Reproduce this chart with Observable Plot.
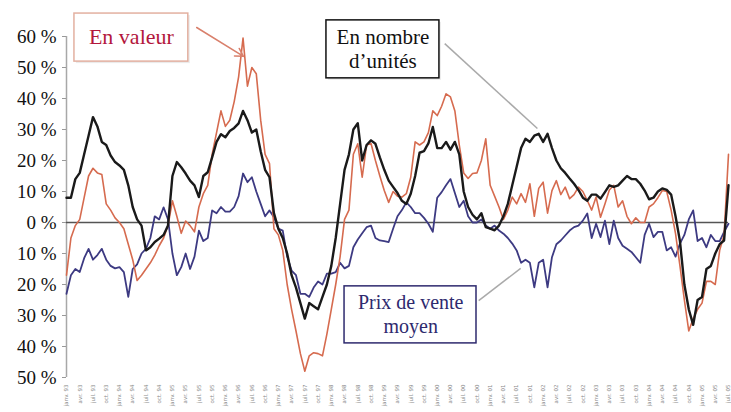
<!DOCTYPE html>
<html><head><meta charset="utf-8">
<script src="https://cdn.jsdelivr.net/npm/d3@7"></script>
<script src="https://cdn.jsdelivr.net/npm/@observablehq/plot@0.6"></script>
<style>body{margin:0;background:#fff;} #chart svg{display:block}</style>
</head><body><div id="chart"></div>
<script>
// Monthly year-over-year change (%), month index 0 = January of startYear
const startYear = 1993;
const monthNames = ["janv.","févr.","mars","avr.","mai","juin","juil.","août","sept.","oct.","nov.","déc."];

const nombre = [ // En nombre d'unités
  8, 8, 14, 16, 22, 28, 34, 31, 26, 25,
  21.6, 19.5, 18.4, 17, 12, 5, 1, -1, -9, -8,
  -6.3, -5.2, -4, -1, 15, 19.5, 17.8, 15.8, 13.5, 12,
  8.2, 15, 16.2, 21, 26, 28.5, 27.5, 29.5, 30.5, 32,
  36, 33, 29, 30, 23, 17, 14.6, 3, -2, -5,
  -10, -17, -21, -26, -31, -26, -27, -28, -24, -20,
  -14, -5, 6, 17, 22, 30, 32, 20, 25, 26.5,
  25.4, 21, 17, 13.5, 11.5, 9.5, 7, 6, 9.3, 15,
  22.5, 23, 25.5, 30.8, 24, 24, 26, 23.5, 26, 22,
  10, 5, 2.5, 1, 3, -1.5, -2, -2.5, -1, 2,
  6, 12, 18, 24, 27, 26, 28, 28.6, 26, 28.6,
  24, 20, 17.5, 16, 14.2, 12.5, 10.5, 8, 7, 9,
  9, 7.7, 9.8, 12, 11.5, 12, 13.5, 15, 14, 14,
  12.5, 10.3, 7.5, 8, 10, 11, 10.5, 9, 2, -6,
  -20, -28, -33, -25, -24, -15, -14, -10, -7, -5.8,
  12
];

const valeur = [ // En valeur
  -17, -5, -1, 1, 8, 15, 17.5, 16, 15.5, 6,
  4, 1.5, 0, -2, -7, -12, -18.7, -17, -15, -13,
  -10.5, -7.5, -5, -1, 7, 2, -3.5, 0.5, -1, -3,
  5, 9.3, 12, 22, 29, 36, 31, 33, 39, 47,
  59.5, 44, 50, 48, 33, 22, 19, -2, -4, -9,
  -20, -28, -35, -42.3, -48, -43, -42, -42.3, -43, -36,
  -28, -20, -11, 1, 4, 22, 25.4, 14.6, 25, 25.5,
  20, 15, 10.3, 6.5, 10, 8.5, 8.2, 9.3, 14.6, 26,
  25, 26, 29, 36, 34.5, 37.5, 41.5, 40.5, 36, 25,
  16, 14.2, 15.8, 16, 20, 27, 12, 8.5, 5, 1,
  4, 8.2, 6, 9.3, 6.5, 12.5, 2, 11, 13, 3,
  10.3, 13.5, 9, 11.4, 7.7, 9, 11.4, 10, 7.1, 4,
  8.2, 1.7, 6, 10.5, 12, 5, 7, 2, -0.4, 1.5,
  0, 0, 5, 6, 8, 10.3, 10, 4, -3.6, -14,
  -25, -35, -31, -28, -26, -19, -19, -20, -9, -4,
  22
];

const prix = [ // Prix de vente moyen
  -23, -17, -15, -16, -11.5, -8.5, -12, -10.5, -8.5, -12,
  -14, -14.8, -14.4, -16, -24, -15, -13.5, -10, -8.5, -5,
  2, 1, 4.9, 1, -10, -17, -14.4, -10, -15, -11,
  -2.6, -6, -5, 3.9, 3, 5, 3.5, 3.5, 5, 8.5,
  15.8, 13, 14.6, 10, 6, 2, 3.9, 1.7, -2, -2.6,
  -11, -15.5, -17, -23, -23, -24, -21, -19, -20, -16.5,
  -16.5, -16, -13, -14.8, -14, -8, -5.5, -3.5, -1.5, -1,
  -5, -5.8, -6, -6.3, -2, 2, 4, 6.5, 5, 3,
  3, 1.5, -0.4, -3, 8, 9.8, 12, 14, 9.5, 5,
  7, 2, 0, 0, 1, -1, -2, -1, -2.6, -3.6,
  -5, -6.8, -9, -13, -12, -13, -20.9, -13, -12, -20.9,
  -11.2, -7, -5.8, -4.2, -2.6, -1.5, -1, 0.6, 2.9, -5,
  -0.4, -4.7, 0.6, -7, 0.6, -5, -7.5, -8.5, -9.5, -11.2,
  -13, -4, -0.4, -4.7, -3, -3, -9, -8, -11, -6.8,
  -4, 1, 3.9, -6, -5, -8, -4, -6, -6, -3,
  -0.4
];

const yTicks = [-50, -40, -30, -20, -10, 0, 10, 20, 30, 40, 50, 60];
const xTicks = d3.range(0, nombre.length, 3);

const toRows = arr => arr.map((v, i) => ({m: i, v}));
const fmtMonth = m => {
  const mo = m % 12, yr = startYear + Math.floor(m / 12);
  return `${monthNames[mo]} ${String(yr).slice(2)}`;
};

const serif = "'Liberation Serif', 'DejaVu Serif', serif";
const box = (d, o) => Plot.rect([d], {x1: "x1", x2: "x2", y1: "y1", y2: "y2", ...o});
const seg = (d, mark, o) => mark([d], {x1: "x1", y1: "y1", x2: "x2", y2: "y2", ...o});
const label = (d, o) => Plot.text([d], {x: "x", y: "y", text: "t", fontFamily: serif, fontSize: 22, ...o});

const plot = Plot.plot({
  width: 731,
  height: 412,
  marginLeft: 66,
  marginRight: 3,
  marginTop: 36,
  marginBottom: 35,
  x: {domain: [0, nombre.length - 1]},
  y: {domain: [-50, 60]},
  style: {fontFamily: serif, background: "#fff", overflow: "visible"},
  marks: [
    Plot.ruleX([0], {stroke: "#a8a8a8", strokeWidth: 1.5}),
    Plot.ruleY([0], {stroke: "#555", strokeWidth: 1.3}),
    Plot.axisY({ticks: yTicks, tickFormat: d => `${Math.abs(d)} %`, tickSize: 4, tickPadding: 6,
      fontSize: 19, fontFamily: serif, stroke: "#999", fill: "#111", label: null}),
    Plot.axisX({ticks: xTicks, tickFormat: fmtMonth, tickRotate: -90, tickSize: 0, tickPadding: 7,
      fontSize: 5.5, fontFamily: "DejaVu Sans", fill: "#888", label: null}),
    Plot.line(toRows(prix), {x: "m", y: "v", stroke: "#3d3a82", strokeWidth: 1.8}),
    Plot.line(toRows(valeur), {x: "m", y: "v", stroke: "#d66b4f", strokeWidth: 1.6}),
    Plot.line(toRows(nombre), {x: "m", y: "v", stroke: "#1a1a1a", strokeWidth: 2.4}),

    // annotation: En valeur
    seg({x1: 29.5, y1: 62.9, x2: 40.1, y2: 53.6}, Plot.arrow, {stroke: "#d9806c", strokeWidth: 1.5, headLength: 9}),
    box({x1: 1.8, x2: 27.6, y1: 51.9, y2: 67.4}, {fill: "#ddd", dx: 2, dy: 2, fillOpacity: 0.6}),
    box({x1: 1.8, x2: 27.6, y1: 51.9, y2: 67.4}, {fill: "white", stroke: "#e3b0a0", strokeWidth: 1.5}),
    label({x: 14.7, y: 59.7, t: "En valeur"}, {fill: "#b3173c"}),

    // annotation: En nombre d'unités
    seg({x1: 85.7, y1: 57.7, x2: 106.7, y2: 30.3}, Plot.link, {stroke: "#aaa", strokeWidth: 1.5}),
    box({x1: 58.9, x2: 84.5, y1: 46.5, y2: 65.2}, {fill: "#ddd", dx: 2, dy: 2, fillOpacity: 0.6}),
    box({x1: 58.9, x2: 84.5, y1: 46.5, y2: 65.2}, {fill: "white", stroke: "#111", strokeWidth: 1.5}),
    label({x: 71.7, y: 59.8, t: "En nombre"}, {fill: "#111", fontSize: 21}),
    label({x: 71.7, y: 52.0, t: "d\u2019unités"}, {fill: "#111", fontSize: 21}),

    // annotation: Prix de vente moyen
    seg({x1: 93.4, y1: -25.2, x2: 102.9, y2: -14.8}, Plot.link, {stroke: "#aaa", strokeWidth: 1.5}),
    box({x1: 63, x2: 92.9, y1: -39, y2: -20.6}, {fill: "white", stroke: "#2e2a6e", strokeWidth: 1.5}),
    label({x: 78, y: -25.8, t: "Prix de vente"}, {fill: "#2e2a6e", fontSize: 20}),
    label({x: 78, y: -33.6, t: "moyen"}, {fill: "#2e2a6e", fontSize: 20})
  ]
});

document.getElementById("chart").appendChild(plot);
</script>
</body></html>
